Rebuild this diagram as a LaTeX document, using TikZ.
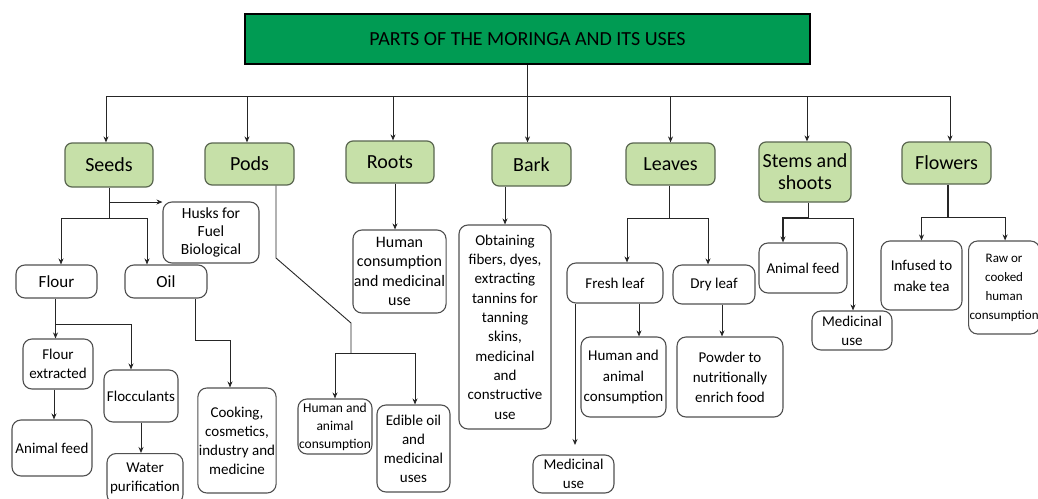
\documentclass[tikz,border=0pt]{standalone}
\usepackage{fontspec}
\setmainfont{Carlito}
\usetikzlibrary{arrows.meta}
\definecolor{titlegreen}{HTML}{009B53}
\definecolor{partfill}{HTML}{C6E0A8}
\definecolor{partdraw}{HTML}{5A6650}
\definecolor{boxdraw}{HTML}{505050}
\begin{document}
\begin{tikzpicture}[x=1pt,y=-1pt,
  part/.style={draw=partdraw, fill=partfill, line width=1.2pt, rounded corners=7pt, inner sep=1pt, align=center, font=\fontsize{20}{22}\selectfont},
  wbox/.style={draw=boxdraw, fill=white, line width=1.1pt, rounded corners=9pt, inner sep=1pt, align=center, font=\fontsize{15}{19}\selectfont},
  titlebox/.style={draw=black, fill=titlegreen, line width=2pt, inner sep=1pt, font=\fontsize{20}{22}\selectfont},
  sz/.style 2 args={minimum width=#1, minimum height=#2},
  conn/.style={draw=black!85, line width=0.9pt},
  arr/.style={draw=black!85, line width=0.9pt, -{Stealth[length=6pt,width=5pt]}}]
\useasboundingbox (0,0) rectangle (1038,498);
\fill[white] (0,0) rectangle (1038,498);
% title
\node[titlebox, sz={565}{50}] (title) at (527.5,39) {PARTS OF THE MORINGA AND ITS USES};
% parts
\node[part, sz={88}{44}] (seeds) at (109,165) {Seeds};
\node[part, sz={89}{42}] (pods) at (249.5,164) {Pods};
\node[part, sz={88}{42}] (roots) at (390,162) {Roots};
\node[part, sz={79}{43}] (bark) at (531.5,164.5) {Bark};
\node[part, sz={89}{42}] (leaves) at (670.5,164) {Leaves};
\node[part, sz={92}{60}] (stems) at (805,172) {Stems and\\shoots};
\node[part, sz={89}{42}] (flowers) at (946.5,163) {Flowers};
% seeds branch
\node[wbox, sz={96}{61}, font=\fontsize{15.5}{18}\selectfont] (husks) at (211,232.5) {Husks for\\Fuel\\Biological};
\node[wbox, sz={81}{33}, font=\fontsize{17}{20}\selectfont] (flour) at (56.5,281.5) {Flour};
\node[wbox, sz={82}{33}, font=\fontsize{17}{20}\selectfont] (oil) at (166,281.5) {Oil};
\node[wbox, sz={70}{50}] (flourext) at (58,364) {Flour\\extracted};
\node[wbox, sz={74}{52}] (flocc) at (141,396) {Flocculants};
\node[wbox, sz={80}{56}] (animals) at (52,448) {Animal feed};
\node[wbox, sz={76}{50}, anchor=north] (water) at (145,453) {Water\\purification};
\node[wbox, sz={76}{105}] (cooking) at (237,440.5) {Cooking,\\cosmetics,\\industry and\\medicine};
% pods branch
\node[wbox, sz={74}{55}, font=\fontsize{13.5}{18}\selectfont] (podhum) at (335,426.5) {Human and\\animal\\consumption};
\node[wbox, sz={73}{87}] (edible) at (413.5,448.5) {Edible oil\\and\\medicinal\\uses};
% roots branch
\node[wbox, sz={87}{83}, font=\fontsize{16}{19.5}\selectfont] (roothum) at (399.5,271.5) {Human\\consumption\\and medicinal\\use};
% bark branch
\node[wbox, sz={92}{204}, font=\fontsize{15}{19.3}\selectfont] (barkuse) at (505,327) {Obtaining\\fibers, dyes,\\extracting\\tannins for\\tanning\\skins,\\medicinal\\and\\constructive\\use};
% leaves branch
\node[wbox, sz={96}{40}] (fresh) at (615,283) {Fresh leaf};
\node[wbox, sz={82}{39}] (dry) at (714,284.5) {Dry leaf};
\node[wbox, sz={85}{80}, font=\fontsize{15}{20.5}\selectfont] (leafhum) at (623.5,377) {Human and\\animal\\consumption};
\node[wbox, sz={106}{80}, font=\fontsize{15}{20}\selectfont] (powder) at (730,377) {Powder to\\nutritionally\\enrich food};
\node[wbox, sz={81}{38}] (leafmed) at (573.5,474) {Medicinal\\use};
% stems branch
\node[wbox, sz={88}{50}] (stemanim) at (803,268) {Animal feed};
\node[wbox, sz={80}{39}] (stemmed) at (852,330.5) {Medicinal\\use};
% flowers branch
\node[wbox, sz={81}{69}, font=\fontsize{15}{21}\selectfont] (infused) at (921.5,275.5) {Infused to\\make tea};
\node[wbox, sz={68}{93}, font=\fontsize{13}{19}\selectfont, anchor=west] (raw) at (968,287.5) {Raw or\\cooked\\human\\consumption};
% top connectors
\coordinate (bus) at (527.5,96);
\draw[conn] (title.south) -- (bus);
\draw[arr] (bus) -| ([xshift=-3pt]seeds.north);
\draw[arr] (bus) -| ([xshift=-2.5pt]pods.north);
\draw[arr] (bus) -| ([xshift=3pt]roots.north);
\draw[arr] (bus) -- (bus |- bark.north);
\draw[arr] (bus) -| (leaves.north);
\draw[arr] (bus) -| ([xshift=2pt]stems.north);
\draw[arr] (bus) -| ([xshift=3.5pt]flowers.north);
% seeds
\coordinate (s1) at (109,202);
\coordinate (s2) at (109,218);
\draw[conn] (seeds.south) -- (s2);
\draw[arr] (s1) -- (s1 -| husks.west);
\draw[arr] (s2) -| ([xshift=4.5pt]flour.north);
\draw[arr] (s2) -| ([xshift=-19pt]oil.north);
\draw[arr] ([xshift=-1pt]flour.south) -- ([xshift=-1pt]flour.south |- flourext.north);
\coordinate (f1) at (56,324);
\draw[arr] (f1) -| ([xshift=-10pt]flocc.north);
\draw[arr] ([xshift=-4pt]flourext.south) -- ([xshift=-4pt]flourext.south |- animals.north);
\draw[arr] (flocc.south) -- (flocc.south |- water.north);
\draw[arr] ([xshift=29pt]oil.south) -- ++(0,42) -| ([xshift=-7pt]cooking.north);
% pods
\coordinate (p0) at (276,258);
\coordinate (p1) at (351,323);
\coordinate (p2) at (351,353);
\draw[conn] ([xshift=26.5pt]pods.south) -- (p0) -- (p1) -- (p2);
\draw[arr] (p2) -| (podhum.north);
\draw[arr] (p2) -| ([xshift=1.5pt]edible.north);
% roots
\draw[arr] ([xshift=5pt]roots.south) -- ([xshift=5pt]roots.south |- roothum.north);
% bark
\draw[arr] (barkuse.north |- bark.south) -- (barkuse.north);
% leaves
\coordinate (l1) at (669,218);
\draw[conn] ([xshift=-1.5pt]leaves.south) -- (l1);
\draw[arr] (l1) -| ([xshift=12pt]fresh.north);
\draw[arr] (l1) -| ([xshift=-6pt]dry.north);
\draw[arr] ([xshift=-40pt]fresh.south) -- ([xshift=-40pt]fresh.south |- 0,445);
\draw[arr] ([xshift=24pt]fresh.south) -- ([xshift=24pt]fresh.south |- leafhum.north);
\draw[arr] ([xshift=8pt]dry.south) -- ([xshift=8pt]dry.south |- powder.north);
% stems
\coordinate (st1) at (808,218);
\draw[conn] ([xshift=3pt]stems.south) -- (st1);
\draw[arr, line width=1.3pt] (st1) -| ([xshift=-20pt]stemanim.north);
\draw[arr] (st1) -| ([xshift=1pt]stemmed.north);
% flowers
\coordinate (fl1) at (948,217);
\draw[conn, line width=1.3pt] ([xshift=1.5pt]flowers.south) -- (fl1);
\draw[arr] (fl1) -| (infused.north);
\draw[arr] (fl1) -| ([xshift=1pt]raw.north);
\end{tikzpicture}
\end{document}
